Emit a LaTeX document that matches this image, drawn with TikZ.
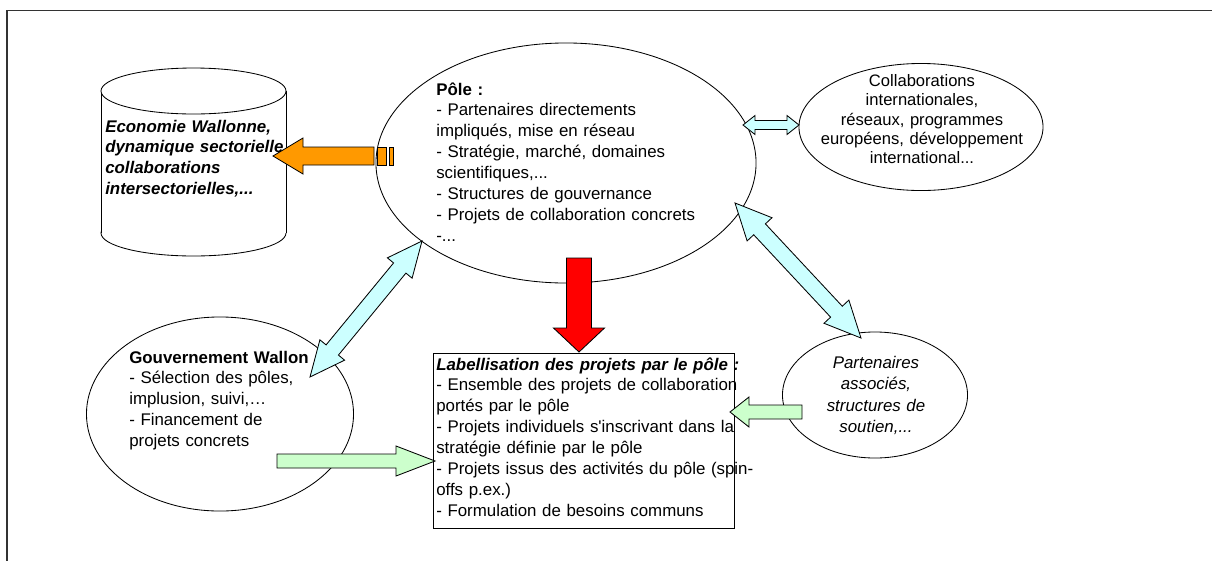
\documentclass[tikz,border=0pt]{standalone}
\usepackage{fontspec}
\setmainfont{Liberation Sans}
\usetikzlibrary{calc,shapes.geometric}

\definecolor{arrorange}{HTML}{FF9900}
\definecolor{arrcyan}{HTML}{CCFFFF}
\definecolor{arrgreen}{HTML}{CCFFCC}

\newcommand{\fatarrow}[6]{%
  \coordinate (fa-h) at ($(#3)!#6*0.025cm!(#2)$);
  \draw[fill=#1, line width=0.6pt] ($(#2)!#4*0.025cm!90:(#3)$) -- ($(fa-h)!#4*0.025cm!90:(#3)$)
    -- ($(fa-h)!#5*0.025cm!90:(#3)$) -- (#3) -- ($(fa-h)!#5*0.025cm!-90:(#3)$)
    -- ($(fa-h)!#4*0.025cm!-90:(#3)$) -- ($(#2)!#4*0.025cm!-90:(#3)$) -- cycle;}
\newcommand{\dblarrow}[6]{%
  \coordinate (da-a) at ($(#2)!#6*0.025cm!(#3)$);
  \coordinate (da-b) at ($(#3)!#6*0.025cm!(#2)$);
  \draw[fill=#1, line width=0.6pt] (#2) -- ($(da-a)!#5*0.025cm!90:(#3)$) -- ($(da-a)!#4*0.025cm!90:(#3)$)
    -- ($(da-b)!#4*0.025cm!90:(#3)$) -- ($(da-b)!#5*0.025cm!90:(#3)$) -- (#3)
    -- ($(da-b)!#5*0.025cm!-90:(#3)$) -- ($(da-b)!#4*0.025cm!-90:(#3)$)
    -- ($(da-a)!#4*0.025cm!-90:(#3)$) -- ($(da-a)!#5*0.025cm!-90:(#3)$) -- cycle;}

\begin{document}
\begin{tikzpicture}
        [x=0.025cm, y=-0.025cm,
          bubble/.style={
            ellipse,
            draw,
            line width=0.6pt,
            fill=white,
            inner sep=0pt},
          txt/.style={
            inner sep=0pt,
            font=\fontsize{12}{14.9}\selectfont}]
        \useasboundingbox (0,0) rectangle (1212,561);
        \draw[line width=1.2pt, black!80] (1212,10.5) -- (7,10.5) -- (7,561);

        \draw[line width=0.6pt, fill=white] (193.5,233) ellipse [x radius=92.5, y radius=23];
        \fill[white] (101,91) rectangle (286,233);
        \draw[line width=0.6pt] (101,91) -- (101,233) (286,91) -- (286,233);
        \draw[line width=0.6pt, fill=white] (193.5,91) ellipse [x radius=92.5, y radius=23];
        \node[txt, text width=6cm, anchor=base west, font=\fontsize{12}{14.9}\selectfont\bfseries\itshape] (eco) at (105,132)
          {Economie Wallonne,\\ dynamique sectorielle,\\ collaborations\\ intersectorielles,...};

        \node[bubble, minimum width=9.5cm, minimum height=6cm] (pole) at (566,163) {};
        \node[txt, text width=8.5cm, anchor=base west] (poletxt) at (436,95)
          {\textbf{Pôle :}\\ - Partenaires directements\\ impliqués, mise en réseau\\
           - Stratégie, marché, domaines\\ scientifiques,...\\ - Structures de gouvernance\\
           - Projets de collaboration concrets\\ -...};

        \node[bubble, minimum width=6.1cm, minimum height=3.175cm] (intl) at (921,127) {};
        \node[txt, text width=6cm, align=center, anchor=base, font=\fontsize{11.8}{13.7}\selectfont] (intltxt) at (922,86.5)
          {Collaborations\\ internationales,\\ réseaux, programmes\\ européens, développement\\ international...};

        \node[bubble, minimum width=6.675cm, minimum height=4.85cm] (gouv) at (220,414) {};
        \node[txt, text width=6cm, anchor=base west] (gouvtxt) at (129,363)
          {\textbf{Gouvernement Wallon}\\ - Sélection des pôles,\\ implusion, suivi,…\\
           - Financement de\\ projets concrets};

        \node[bubble, minimum width=4.625cm, minimum height=3.15cm] (assoc) at (875,395) {};
        \node[txt, text width=4cm, align=center, anchor=base, font=\fontsize{12}{15.3}\selectfont\itshape] (assoctxt) at (876,368)
          {Partenaires\\ associés,\\ structures de\\ soutien,...};

        \node[draw, line width=0.6pt, fill=white, minimum width=7.525cm, minimum height=4.375cm] (lab) at (583.5,440.5) {};
        \node[txt, text width=8.5cm, anchor=base west] (labtxt) at (436,370)
          {\textbf{\textit{Labellisation des projets par le pôle :}}\\
           - Ensemble des projets de collaboration\\ portés par le pôle\\
           - Projets individuels s\textquotesingle inscrivant dans la\\ stratégie définie par le pôle\\
           - Projets issus des activités du pôle (spin-\\ offs p.ex.)\\
           - Formulation de besoins communs};

        \coordinate (pole-out) at (374,156);
        \coordinate (eco-in) at (273,156);
        \coordinate (pole-down) at (579,258);
        \coordinate (lab-top) at (579,352);
        \coordinate (pole-e) at (743,125);
        \coordinate (intl-w) at (799,125);
        \coordinate (pole-se) at (735,203);
        \coordinate (assoc-nw) at (861,338);
        \coordinate (gouv-ne) at (310,377);
        \coordinate (pole-sw) at (422,241);
        \coordinate (gouv-out) at (277,461);
        \coordinate (lab-w) at (435,461);
        \coordinate (assoc-out) at (802,412);
        \coordinate (lab-e) at (730,412);

        \fatarrow{arrorange}{pole-out}{eco-in}{9}{18}{30}
        \draw[line width=0.6pt, fill=arrorange] (377,147) rectangle (386,165) (389,147) rectangle (393,165);
        \fatarrow{red}{pole-down}{lab-top}{12.5}{25.5}{24}
        \dblarrow{arrcyan}{pole-e}{intl-w}{4.5}{9.5}{12}
        \dblarrow{arrcyan}{pole-se}{assoc-nw}{8}{17}{36}
        \dblarrow{arrcyan}{gouv-ne}{pole-sw}{8}{16}{35}
        \fatarrow{arrgreen}{gouv-out}{lab-w}{7}{15}{39}
        \fatarrow{arrgreen}{assoc-out}{lab-e}{7}{15}{19}
      \end{tikzpicture}
\end{document}
